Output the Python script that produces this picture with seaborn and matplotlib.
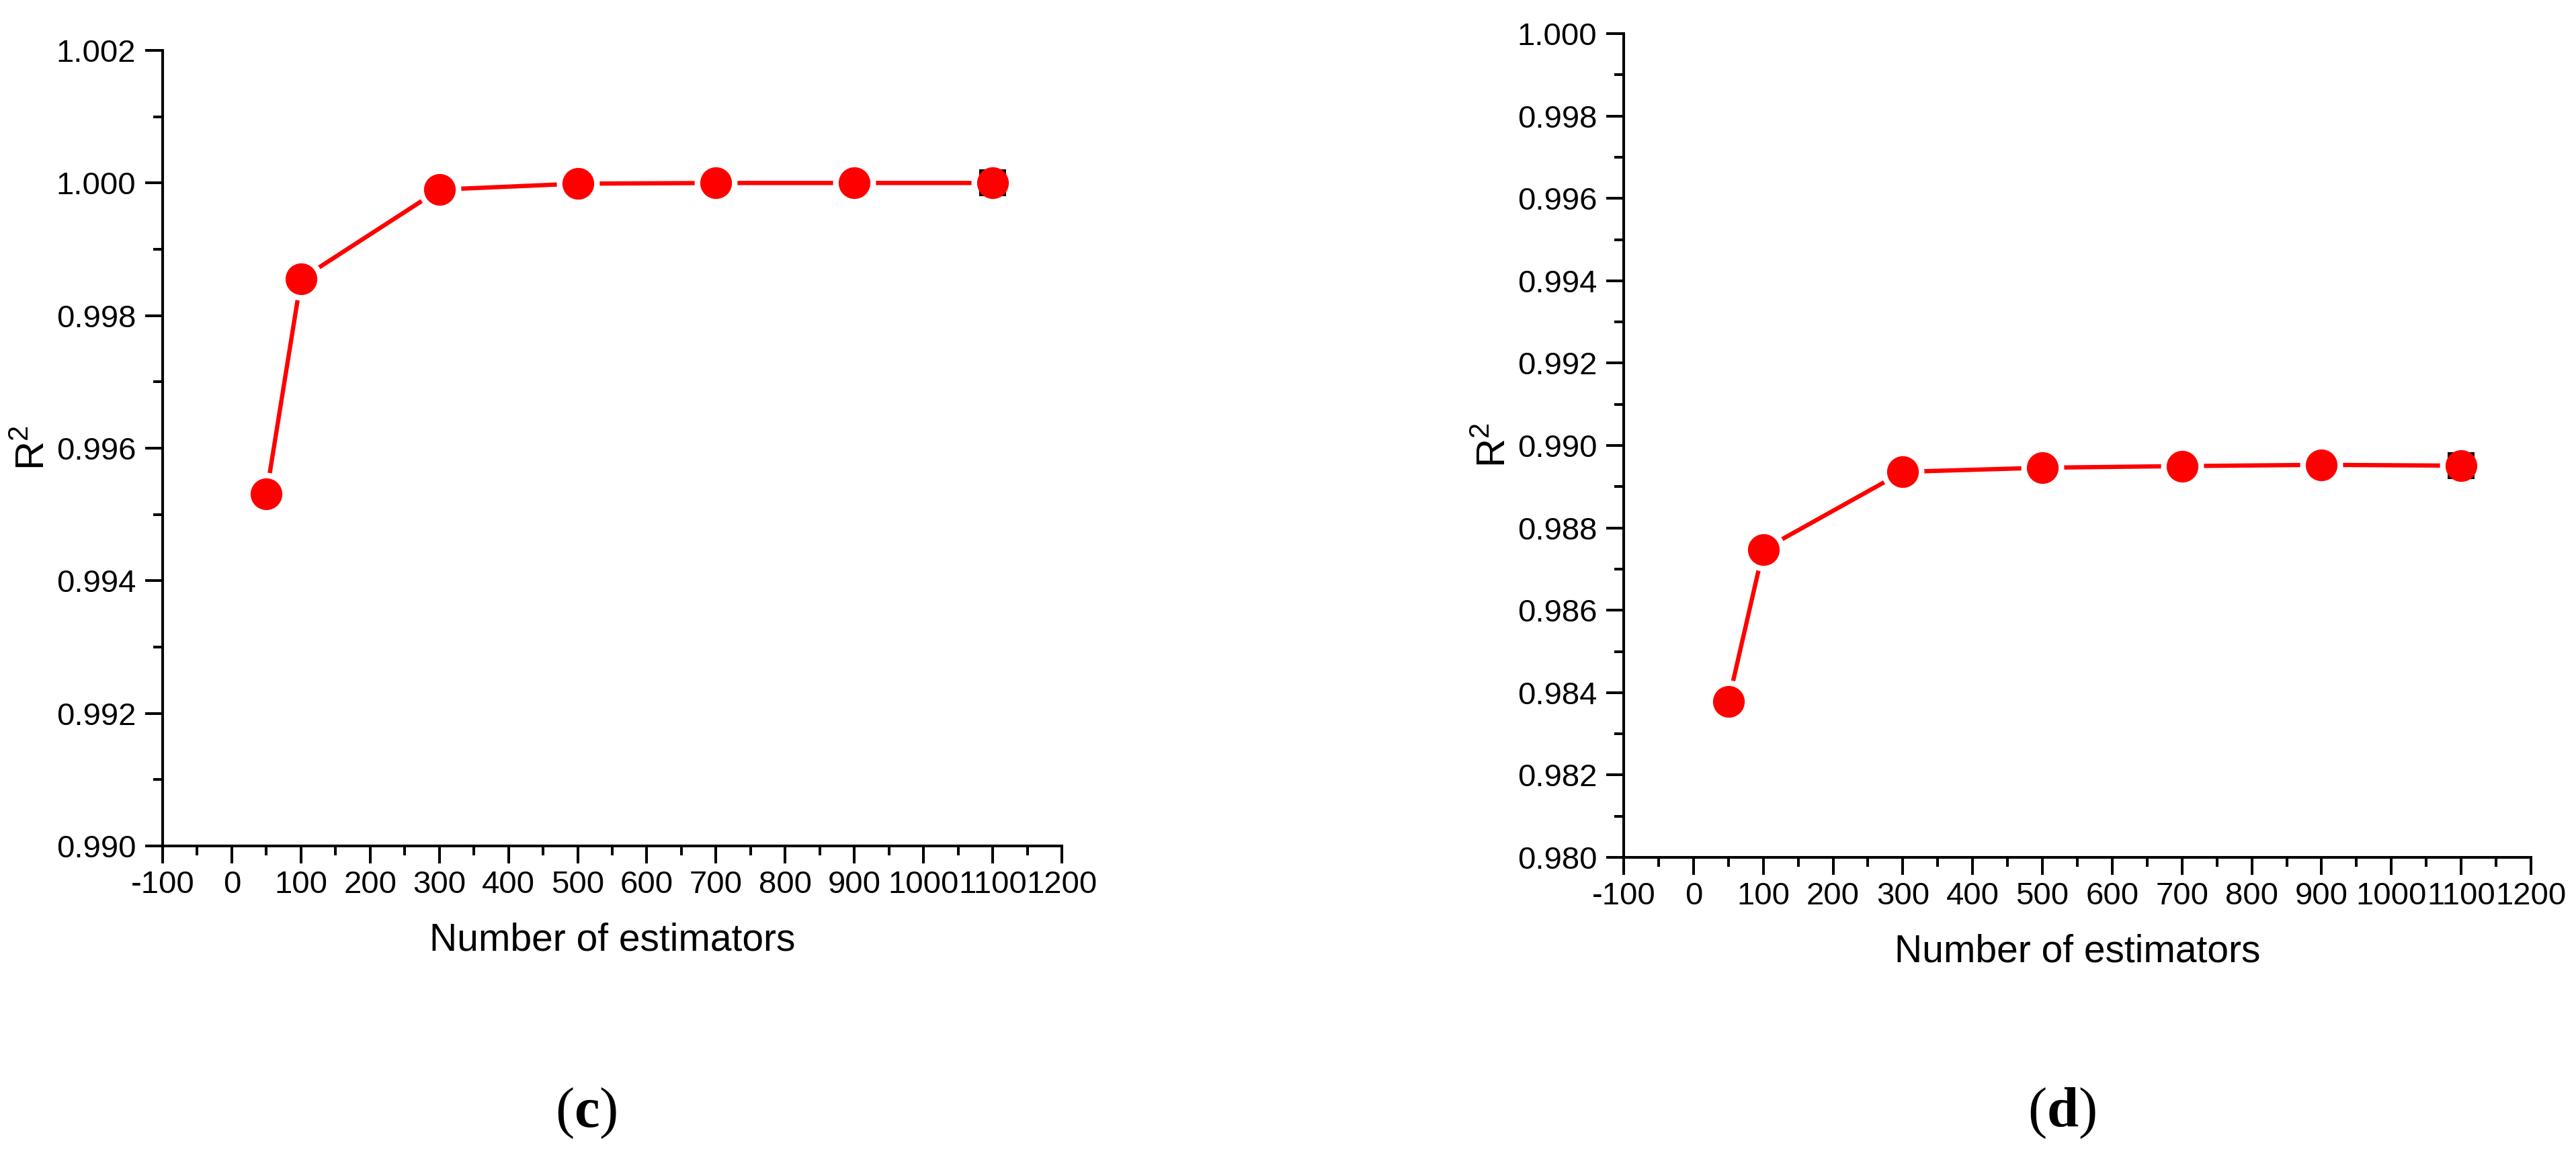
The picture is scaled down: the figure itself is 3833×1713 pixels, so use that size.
import numpy as np
import pandas as pd
import matplotlib
matplotlib.use("Agg")
import matplotlib.pyplot as plt
import seaborn as sns
from matplotlib.ticker import MultipleLocator, FormatStrFormatter

# data
n_estimators = [50, 100, 300, 500, 700, 900, 1100]
r2_c = [0.99531, 0.99855, 0.99990, 0.99999, 1.00000, 1.00000, 1.00000]
r2_d = [0.98378, 0.98747, 0.98936, 0.98946, 0.98950, 0.98953, 0.98951]
panel_labels = ["c", "d"]
x_ticks = list(range(-100, 1201, 100))

sns.set_theme(style="ticks")
plt.rcParams['font.family'] = ['Liberation Sans', 'DejaVu Sans']
plt.rcParams['mathtext.fontset'] = 'custom'
plt.rcParams['mathtext.rm'] = 'Liberation Sans'
plt.rcParams['mathtext.bf'] = 'Liberation Serif:bold'
plt.rcParams['axes.unicode_minus'] = False
plt.rcParams['text.color'] = 'black'
plt.rcParams['axes.labelcolor'] = 'black'

fig = plt.figure(figsize=(38.33, 17.13), dpi=100)
ax_c = fig.add_axes([242 / 3833, 1 - 1259 / 1713, 1338 / 3833, 1184 / 1713])
ax_d = fig.add_axes([2416 / 3833, 1 - 1276 / 1713, 1350 / 3833, 1226 / 1713])

red = "#FF0000"
lw_axis = 2.9


def draw_panel(ax, yvals, ylim):
    df = pd.DataFrame({"n": n_estimators, "r2": yvals})
    sns.lineplot(data=df, x="n", y="r2", color=red, lw=4.6, ax=ax, zorder=2)
    # white halo gives the gap between line and symbol
    sns.scatterplot(data=df, x="n", y="r2", color="white", s=46 ** 2,
                    marker="o", linewidth=0, ax=ax, zorder=3)
    sns.scatterplot(data=df.tail(1), x="n", y="r2", color="black", s=29 ** 2,
                    marker="s", linewidth=0, ax=ax, zorder=4)
    sns.scatterplot(data=df, x="n", y="r2", color=red, s=34 ** 2,
                    marker="o", linewidth=0, ax=ax, zorder=5)
    ax.set_xlim(-100, 1200)
    ax.set_ylim(*ylim)
    ax.set_xticks(x_ticks)
    ax.xaxis.set_minor_locator(MultipleLocator(50))
    ax.yaxis.set_major_locator(MultipleLocator(0.002))
    ax.yaxis.set_minor_locator(MultipleLocator(0.001))
    ax.yaxis.set_major_formatter(FormatStrFormatter('%.3f'))
    sns.despine(ax=ax)
    for s in ["left", "bottom"]:
        ax.spines[s].set_linewidth(lw_axis)
        ax.spines[s].set_color("black")
    ax.tick_params(which="major", direction="out", length=18.7, width=lw_axis,
                   labelsize=34, colors="black")
    ax.tick_params(which="minor", direction="out", length=10, width=lw_axis,
                   colors="black")
    ax.tick_params(axis="y", which="major", pad=10)
    ax.tick_params(axis="x", which="major", pad=7)
    ax.set_xlabel("Number of estimators", fontsize=41, labelpad=24, color="black")
    ax.set_ylabel("R$^2$", fontsize=43, labelpad=4, color="black")


draw_panel(ax_c, r2_c, (0.990, 1.002))
draw_panel(ax_d, r2_d, (0.980, 1.000))

fig.text(872 / 3833, 1 - 1657 / 1713, "($\\mathbf{%s}$)" % panel_labels[0],
         family="Liberation Serif", fontsize=61, ha="center", va="center",
         color="black")
fig.text(3068 / 3833, 1 - 1657 / 1713, "($\\mathbf{%s}$)" % panel_labels[1],
         family="Liberation Serif", fontsize=61, ha="center", va="center",
         color="black")

fig.savefig("out.png", dpi=100, facecolor="white")
